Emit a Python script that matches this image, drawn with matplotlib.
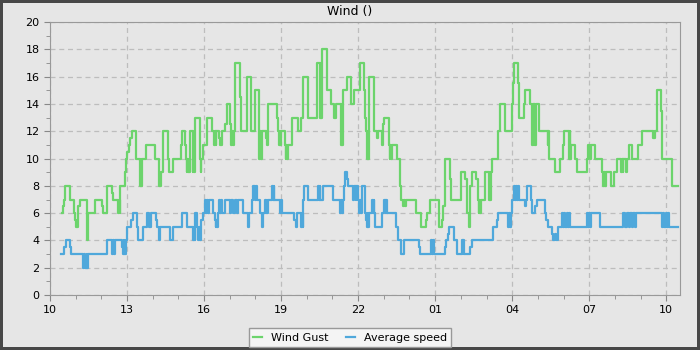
import matplotlib
matplotlib.use("Agg")
import matplotlib.pyplot as plt
import matplotlib.dates as mdates
import pandas as pd

# minutes after 10:00 where the reading changes, and the new reading (m/s)
gust_min = [27, 31, 33, 36, 47, 57, 58, 60, 66, 69,
            86, 88, 90, 105, 121, 125, 134, 144, 148, 158,
            159, 160, 162, 163, 164, 175, 178, 181, 184, 187,
            191, 201, 210, 212, 213, 215, 224, 245, 255, 259,
            265, 276, 278, 288, 305, 308, 315, 318, 319, 321,
            323, 326, 333, 334, 336, 339, 350, 352, 354, 357,
            366, 378, 384, 386, 388, 389, 396, 397, 401, 410,
            413, 421, 422, 424, 426, 427, 429, 433, 444, 446,
            460, 469, 479, 488, 489, 491, 493, 495, 505, 506,
            508, 510, 530, 532, 535, 537, 538, 540, 549, 551,
            552, 554, 555, 565, 579, 587, 592, 602, 604, 623,
            631, 633, 634, 636, 647, 657, 664, 668, 680, 682,
            683, 684, 693, 703, 711, 724, 734, 736, 738, 740,
            742, 744, 746, 756, 764, 767, 775, 779, 781, 792,
            794, 795, 797, 799, 810, 818, 820, 826, 828, 830,
            832, 855, 866, 879, 882, 887, 908, 917, 919, 923,
            935, 937, 960, 970, 974, 975, 979, 982, 986, 996,
            999, 1001, 1002, 1003, 1005, 1007, 1016, 1026, 1027, 1029,
            1030, 1032, 1046, 1051, 1062, 1079, 1083, 1085, 1094, 1096,
            1108, 1111, 1122, 1127, 1129, 1130, 1132, 1133, 1135, 1143,
            1163, 1164, 1166, 1180, 1192, 1199, 1202, 1213, 1215, 1216,
            1217, 1227, 1231, 1254, 1257, 1262, 1264, 1274, 1289, 1292,
            1294, 1296, 1299, 1310, 1319, 1326, 1334, 1336, 1338, 1340,
            1345, 1349, 1352, 1354, 1361, 1375, 1383, 1408, 1411, 1412,
            1414, 1418, 1428, 1431, 1453, 1468]
gust_val = [6, 6.5, 7, 8, 7, 6, 5.5, 5, 6.5, 7,
            4, 5, 6, 7, 6.5, 6, 8, 7.5, 7, 6,
            7, 6, 7, 6, 8, 9, 10, 10.5, 11, 11.5,
            12, 10, 8, 10, 8, 10, 11, 10, 8, 9,
            12, 10, 9, 10, 11, 12, 11, 10, 9, 10,
            9, 12, 9, 10, 9, 13, 10, 9, 10, 11,
            13, 12, 11, 12, 11, 12, 11.5, 11, 12, 12.5,
            14, 12.5, 12, 11, 12, 11, 12, 17, 14.5, 12,
            16, 12, 15, 12, 10, 12, 10, 12, 11.5, 12,
            11, 14, 13, 12, 11, 12, 11, 12, 11, 10,
            11, 10, 11, 13, 12, 13, 16, 14, 13, 17,
            13, 17, 13, 18, 15, 14, 13, 14, 11, 14,
            11, 15, 16, 14, 15, 17, 15, 13, 12, 10,
            12, 10, 16, 12, 11.5, 12, 11, 12.5, 13, 11,
            10, 11, 10, 11, 10, 8, 7, 6.5, 7, 6.5,
            7, 6, 5, 5.5, 6, 7, 5, 5.5, 6.5, 10,
            8.5, 7, 9, 8.5, 7, 6, 5, 8, 9, 8.5,
            8, 7, 6, 7, 6, 7, 9, 7, 9, 7,
            9, 10, 12, 14, 12, 14, 15.5, 17, 15.5, 13,
            14, 15, 14, 11, 14, 11, 14, 11, 14, 12,
            11, 12, 10, 9, 10, 11, 12, 10, 12, 10,
            11, 10, 9, 10, 11, 10, 11, 10, 9, 8,
            9, 8, 9, 8, 9, 10, 9, 10, 9, 10,
            9, 10, 10.5, 11, 10, 11, 12, 11.5, 12, 11.5,
            12, 15, 13.5, 10, 8, 8]

avg_min = [26, 33, 37, 47, 49, 78, 80, 82, 86, 87,
           90, 134, 146, 148, 149, 151, 168, 170, 172, 174,
           177, 179, 189, 195, 203, 205, 206, 218, 226, 232,
           235, 248, 250, 255, 258, 280, 288, 308, 321, 335,
           337, 338, 339, 343, 347, 349, 350, 352, 354, 357,
           362, 364, 367, 369, 372, 382, 386, 388, 389, 391,
           393, 396, 398, 400, 403, 409, 421, 424, 428, 432,
           436, 440, 452, 463, 466, 471, 475, 478, 481, 483,
           491, 495, 498, 502, 504, 506, 508, 510, 518, 521,
           523, 524, 538, 540, 541, 543, 571, 574, 577, 587,
           590, 591, 592, 594, 604, 626, 629, 630, 631, 639,
           662, 678, 680, 682, 684, 687, 689, 693, 696, 709,
           711, 714, 716, 719, 723, 725, 727, 728, 735, 736,
           738, 740, 742, 744, 746, 752, 754, 756, 758, 760,
           775, 781, 784, 785, 787, 808, 814, 820, 828, 863,
           865, 891, 893, 895, 898, 923, 926, 931, 933, 943,
           951, 962, 965, 966, 968, 982, 986, 1034, 1036, 1044,
           1046, 1071, 1073, 1075, 1077, 1080, 1085, 1087, 1090, 1092,
           1094, 1096, 1110, 1112, 1115, 1125, 1127, 1133, 1137, 1157,
           1160, 1164, 1172, 1176, 1180, 1182, 1188, 1196, 1198, 1200,
           1203, 1207, 1211, 1213, 1215, 1254, 1257, 1259, 1261, 1264,
           1285, 1340, 1344, 1348, 1352, 1356, 1359, 1363, 1366, 1369,
           1430, 1433, 1435, 1439, 1441, 1445, 1447, 1468]
avg_val = [3, 3.5, 4, 3.5, 3, 2, 3, 2, 3, 2,
           3, 4, 3, 4, 3, 4, 3.5, 3, 4, 3,
           4, 5, 5.5, 6, 5, 4.5, 4, 5, 6, 5,
           6, 5.5, 5, 4, 5, 4, 5, 6, 5, 4,
           5, 4, 6, 5, 4, 5, 4, 5, 5.5, 6,
           7, 6, 7, 6, 7, 6, 5.5, 5, 5.5, 5,
           6, 7, 6, 7, 6, 7, 6, 7, 6, 7,
           6, 7, 6, 5, 6, 7, 8, 7, 8, 7,
           6, 5, 6, 7, 6, 7, 6, 7, 8, 7,
           8, 7, 6, 7, 6.5, 6, 5.5, 5, 6, 5,
           6, 5, 7, 8, 7, 8, 7, 8, 7, 8,
           7, 6, 7, 6, 7, 8, 9, 8.5, 8, 7,
           8, 7, 8, 7, 6, 7, 6, 8, 7, 6,
           5.5, 5, 6, 5, 6, 7, 6, 7, 6, 5,
           6, 7, 6, 7, 6, 5, 4, 3, 4, 3.5,
           3, 4, 3, 4, 3, 3.5, 4, 4.5, 5, 4,
           3, 4, 3, 4, 3, 3.5, 4, 4.5, 5, 5.5,
           6, 5, 6, 5, 6, 7, 8, 7, 8, 7,
           8, 7, 6.5, 7, 8, 7, 6, 6.5, 7, 6,
           5.5, 5, 4.5, 4, 4.5, 4, 5, 6, 5, 6,
           5, 6, 5, 6, 5, 6, 5, 6, 5, 6,
           5, 6, 5, 6, 5, 6, 5, 6, 5, 6,
           5, 6, 5, 6, 5, 6, 5, 5]

start = pd.Timestamp("2024-03-10 10:00")


def to_times(minutes):
    return start + pd.to_timedelta(minutes, unit="min")


bg = "#e6e6e6"
fig = plt.figure(figsize=(7, 3.5), dpi=100, facecolor=bg, edgecolor="#474747", linewidth=3)
ax = fig.add_axes([0.0714, 0.157, 0.9, 0.78])
ax.set_facecolor(bg)

ax.step(to_times(gust_min), gust_val, where="post", color="#6cd46c", lw=1.6, label="Wind Gust")
ax.step(to_times(avg_min), avg_val, where="post", color="#4fa8db", lw=1.6, label="Average speed")

ax.set_ylim(0, 20)
ax.set_yticks(range(0, 21, 2))
ax.set_yticks(range(1, 20, 2), minor=True)
ax.set_xlim(start, start + pd.Timedelta(minutes=1472))
ax.xaxis.set_major_locator(mdates.HourLocator(byhour=[1, 4, 7, 10, 13, 16, 19, 22]))
ax.xaxis.set_minor_locator(mdates.HourLocator())
ax.xaxis.set_major_formatter(mdates.DateFormatter("%H"))

ax.grid(True, which="major", color="#bdbdbd", linestyle=(0, (4, 3)), lw=0.9)
ax.tick_params(which="both", colors="#888888", labelcolor="black", labelsize=8, direction="out")
ax.tick_params(which="major", length=4)
ax.tick_params(which="minor", length=3)
for s in ax.spines.values():
    s.set_color("#999999")

fig.text(0.5, 0.968, "Wind ()", ha="center", va="center", fontsize=9)
fig.legend(loc="lower center", bbox_to_anchor=(0.5, 0.008), ncol=2, fontsize=8,
           frameon=True, fancybox=False, edgecolor="#999999", facecolor="#f4f4f4",
           framealpha=1, handlelength=0.8, handletextpad=0.8, columnspacing=1.6,
           borderaxespad=0)

fig.savefig("out.png", dpi=100, facecolor=fig.get_facecolor(), edgecolor=fig.get_edgecolor())
